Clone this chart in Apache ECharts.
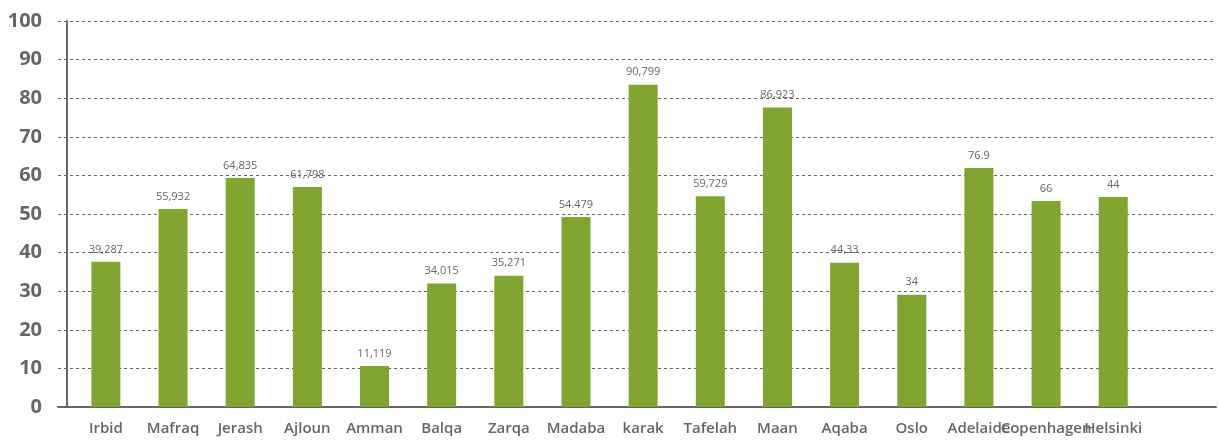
<!DOCTYPE html>
<html>
<head>
<meta charset="utf-8">
<script src="https://cdn.jsdelivr.net/npm/echarts@6/dist/echarts.min.js"></script>
<style>
  html, body { margin: 0; padding: 0; background: #fff; }
  #chart { width: 1219px; height: 445px; }
</style>
</head>
<body>
<div id="chart"></div>
<script>
// categories along the bottom
const cities = ['Irbid', 'Mafraq', 'Jerash', 'Ajloun', 'Amman', 'Balqa', 'Zarqa', 'Madaba',
    'karak', 'Tafelah', 'Maan', 'Aqaba', 'Oslo', 'Adelaide', 'Copenhagen', 'Helsinki']

// bar heights as read against the y axis
const barValues = [37.6, 51.3, 59.3, 57.0, 10.6, 32.0, 34.0, 49.2,
    83.5, 54.6, 77.6, 37.4, 29.1, 61.9, 53.4, 54.4]

// text printed above each bar (does not match bar height in the original)
const labelTexts = ['39,287', '55,932', '64,835', '61,798', '11,119', '34,015', '35,271', '54.479',
    '90,799', '59,729', '86,923', '44,33', '34', '76.9', '66', '44']

const yTicks = { min: 0, max: 100, step: 10 }

const grey = '#666'

const option = {
    backgroundColor: '#fff',
    animation: false,
    grid: {
        left: 58,
        right: 0,
        top: 21,
        bottom: 38,
    },
    xAxis: {
        type: 'value',
        min: -0.713,
        max: 16.53,
        minInterval: 1,
        maxInterval: 1,
        splitNumber: 17,
        splitLine: { show: false },
        axisTick: { show: false },
        axisLine: { show: true, onZero: false, lineStyle: { color: grey, width: 2 } },
        axisLabel: {
            margin: 14,
            color: grey,
            fontSize: 15,
            fontWeight: 600,
            fontFamily: 'Open Sans',
            formatter: v => {
                const i = Math.round(v)
                return Math.abs(v - i) < 1e-6 ? (cities[i] || '') : ''
            }
        },
    },
    yAxis: {
        type: 'value',
        min: yTicks.min,
        max: yTicks.max,
        interval: yTicks.step,
        offset: -9,
        axisLine: { show: true, onZero: false, lineStyle: { color: grey, width: 2 } },
        axisTick: { show: false },
        splitLine: { show: true, lineStyle: { color: grey, width: 1, type: [3, 3] } },
        axisLabel: {
            margin: 25,
            color: grey,
            fontSize: 20,
            fontWeight: 'bold',
            fontFamily: 'Open Sans',
        },
    },
    series: [{
        type: 'bar',
        barWidth: 29,
        itemStyle: { color: '#80a531' },
        data: cities.map((c, i) => [i, barValues[i]]),
        label: {
            show: true,
            position: 'top',
            distance: 7,
            color: grey,
            fontSize: 11,
            fontFamily: 'Open Sans',
            formatter: p => labelTexts[p.dataIndex],
        },
    }]
}

const chart = echarts.init(document.getElementById('chart'))
chart.setOption(option)
</script>
</body>
</html>
